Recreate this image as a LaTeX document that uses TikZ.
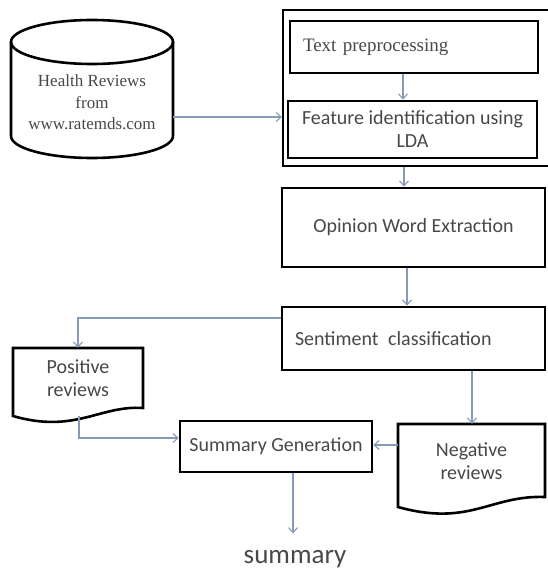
\documentclass[tikz,border=0pt]{standalone}
\usepackage{fontspec}
\setmainfont{Liberation Serif}
\newfontfamily\calfont{Carlito}
\usetikzlibrary{arrows.meta}
\definecolor{txt}{RGB}{72,72,72}
\definecolor{conn}{RGB}{135,155,185}
\tikzset{
  rectbox/.style={draw=black, line width=2.6pt, inner sep=0pt, text=txt},
  outerbox/.style={draw=black, line width=2.2pt, inner sep=0pt},
  docshape/.style={draw=black, line width=2.6pt, line join=miter},
  conline/.style={draw=conn, line width=1.3pt},
  conarrow/.style={conline, -{Straight Barb[length=5pt,width=9pt,line width=1.1pt]}},
  sansbig/.style={font=\calfont\fontsize{20}{23}\selectfont, text=txt},
  serifbig/.style={font=\fontsize{19}{23}\selectfont, text=txt},
  serifsmall/.style={font=\fontsize{17}{21.5}\selectfont, text=txt},
}
\begin{document}
\begin{tikzpicture}[x=1pt,y=-1pt]
\useasboundingbox[fill=white] (0,0) rectangle (547,569);

% database cylinder
\draw[line width=2.6pt] (11,42) -- (11,136) arc[start angle=180,end angle=0,x radius=81,y radius=22] -- (173,42);
\draw[line width=2.6pt] (92,42) ellipse[x radius=81,y radius=22];
\node[serifsmall, align=center, inner sep=0pt, minimum width=162pt, minimum height=138pt] (db) at (92,102.5)
  {Health Reviews\\from\\www.ratemds.com};

% outer box and inner boxes
\node[outerbox, minimum width=266pt, minimum height=156pt] (outer) at (416,88) {};
\node[rectbox, serifbig, minimum width=248pt, minimum height=52pt, text width=222pt, align=left, inner xsep=13pt] (tp) at (414,47) {Text preprocessing};
\node[rectbox, sansbig, minimum width=249pt, minimum height=57pt, align=center] (fi) at (412.5,129.5) {Feature identification using\\LDA};

\node[rectbox, sansbig, minimum width=263pt, minimum height=79pt] (op) at (413.5,227.5) {Opinion Word Extraction};
\node[rectbox, sansbig, minimum width=263pt, minimum height=63pt, text width=237pt, align=left, inner xsep=13pt] (sc) at (413.5,338.5) {Sentiment\hspace{3pt} classification};

\node[rectbox, sansbig, minimum width=192pt, minimum height=51pt] (sg) at (276,446.5) {Summary Generation};

% positive document
\draw[docshape] (13,348) -- (143,348) -- (143,408) .. controls (100,405) and (75,434) .. (13,416) -- cycle;
\node[sansbig, align=center, inner sep=0pt, minimum width=130pt, minimum height=60pt] (pos) at (78,378) {Positive\\reviews};

% negative document
\draw[docshape] (398,424) -- (545,424) -- (545,497) .. controls (490,495) and (470,527) .. (398,507) -- cycle;
\node[sansbig, align=center, inner sep=0pt, minimum width=147pt, minimum height=75pt] (neg) at (471.5,461.5) {Negative\\reviews};

% summary text
\node[font=\calfont\fontsize{27}{30}\selectfont, text=txt, anchor=base] (sum) at (295,563) {summary};

% connectors
\coordinate (a1) at (173,117);
\draw[conarrow] (a1) -- (outer.west |- a1);
\draw[conarrow] (tp.south -| 403,0) -- (fi.north -| 403,0);
\draw[conarrow] (outer.south -| 404,0) -- (op.north -| 404,0);
\draw[conarrow] (op.south -| 407,0) -- (sc.north -| 407,0);
\coordinate (c1) at (77,318);
\draw[conarrow] (sc.west |- c1) -| (pos.north);
\coordinate (c2) at (472,0);
\draw[conarrow] (sc.south -| c2) -- (neg.north -| c2);
\coordinate (posb) at (79,416);
\coordinate (c3) at (0,438);
\draw[conarrow] (posb) |- (sg.west |- c3);
\coordinate (negl) at (398,445);
\draw[conarrow] (negl) -- (sg.east |- negl);
\draw[conarrow] (sg.south -| 293,0) -- ([yshift=13pt]sum.north -| 293,0);
\end{tikzpicture}
\end{document}
